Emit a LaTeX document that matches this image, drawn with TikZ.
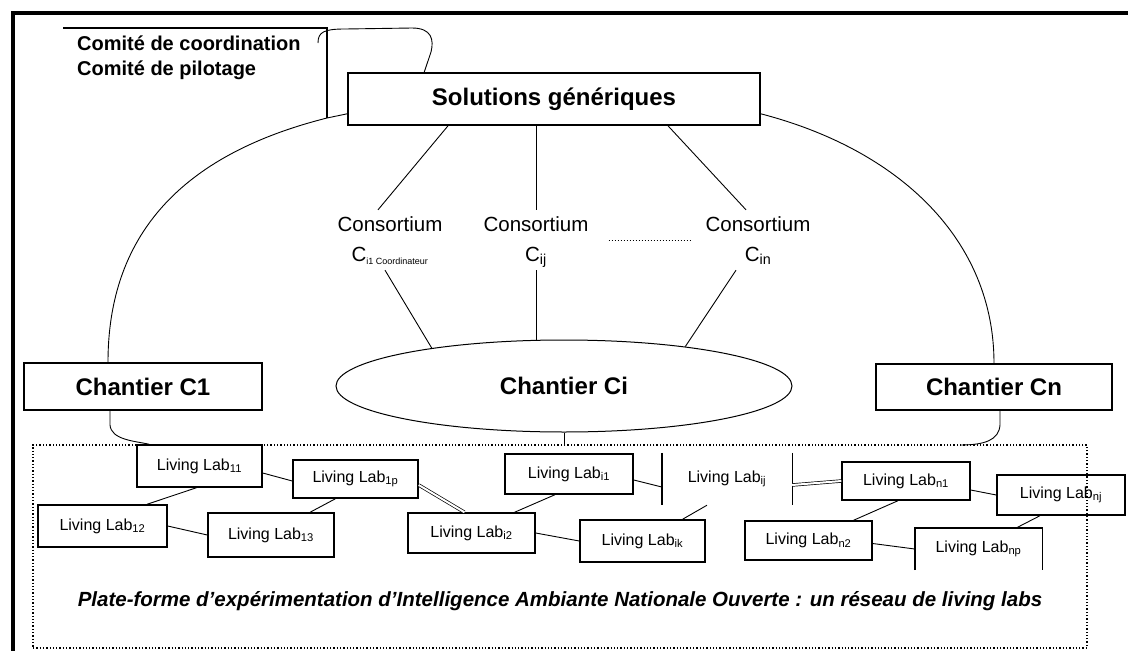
\documentclass[tikz,border=0pt]{standalone}
\usepackage{fontspec}
\setmainfont{Liberation Sans}
\usetikzlibrary{shapes.geometric,calc}

\tikzset{
  frameline/.style={line width=4pt},
  conn/.style={line width=0.9pt},
  bigbox/.style={draw, line width=1.6pt, inner sep=0pt, font=\fontsize{24}{28}\selectfont\bfseries},
  cons/.style={align=center, inner sep=0pt, font=\fontsize{20.5}{30}\selectfont},
  labbox/.style={draw, line width=1.4pt, inner sep=0pt, font=\fontsize{16}{18}\selectfont},
  labopen/.style={inner sep=0pt, font=\fontsize{16}{18}\selectfont},
}

\begin{document}
\begin{tikzpicture}[x=1pt, y=-1pt]
\useasboundingbox (0,0) rectangle (1128,651);

% outer frame (left and top edges)
\draw[frameline] (12.5,660) -- (12.5,12.5) -- (1135,12.5);

% committees
\node[anchor=north west, align=left, inner sep=0pt, font=\fontsize{20}{25}\selectfont\bfseries]
  (comite) at (77,36) {Comité de coordination\\Comité de pilotage};
\coordinate (brkA) at (63,28);
\coordinate (brkB) at (327,28);
\coordinate (brk) at (327,118);
\draw[conn, line width=1.2pt] (brkA) -- (brkB) -- (brk);

% generic solutions
\node[bigbox, minimum width=412pt, minimum height=52pt] (sol) at (554,99) {Solutions génériques};

% loop from the committees to the solutions box
\coordinate (loopA) at (318,43);
\draw[conn] (loopA) .. controls (318,32) and (324,29) .. (345,29) -- (412,28)
  .. controls (432,28) and (434,40) .. (431,52) -- ($(sol.north west)+(77,0)$);

% consortia
\node[cons] (cons1) at (390,240) {\strut Consortium\\\strut C\textsubscript{\fontsize{9}{9}\selectfont i1 Coordinateur}};
\node[cons] (cons2) at (536,240) {\strut Consortium\\\strut C\textsubscript{ij}};
\node[cons] (cons3) at (758,240) {\strut Consortium\\\strut C\textsubscript{in}};
\draw[dotted, line width=1pt, shorten <=20pt, shorten >=14pt] (cons2) -- (cons3);

% chantiers
\node[bigbox, minimum width=238pt, minimum height=47pt] (c1) at (143,386.5) {Chantier C1};
\node[draw, ellipse, line width=1pt, inner sep=0pt, minimum width=456pt, minimum height=92pt,
  font=\fontsize{24}{28}\selectfont\bfseries] (ci) at (564,386) {Chantier Ci};
\node[bigbox, minimum width=236pt, minimum height=46pt] (cn) at (994,387) {Chantier Cn};

% solutions -> consortia -> chantier Ci
\draw[conn] ($(sol.south)+(-106,0)$) -- ($(cons1.north)+(-12,0)$);
\draw[conn] (sol.south -| cons2.north) -- (cons2.north);
\draw[conn] ($(sol.south)+(114,0)$) -- ($(cons3.north)+(-12,0)$);
\draw[conn] ($(cons1.south)+(-5,0)$) -- (ci.164.6);
\draw[conn] (cons2.south) -- (cons2.south |- ci.north);
\draw[conn] ($(cons3.south)+(-22,0)$) -- (ci.18);

% solutions -> chantiers C1 and Cn
\draw[conn] ($(sol.south west)+(0,-12)$) -- (brk)
  .. controls (200,150) and (108,220) .. ($(c1.north)+(-35,0)$);
\draw[conn] ($(sol.south east)+(0,-12)$)
  .. controls (900,150) and (994,240) .. (cn.north);

% living lab platform
\node[draw, dotted, line width=1.3pt, minimum width=1054pt, minimum height=203pt, inner sep=0pt]
  (frame) at (560,546.5) {};
\draw[conn] (ci.south) -- (ci.south |- frame.north);

% living labs
\node[labbox, minimum width=125pt, minimum height=42pt] (ll1) at (199.5,466) {Living Lab\textsubscript{11}};
\node[labbox, minimum width=125pt, minimum height=38pt] (ll2) at (355.5,479) {Living Lab\textsubscript{1p}};
\node[labbox, minimum width=129pt, minimum height=42pt] (ll3) at (102.5,526) {Living Lab\textsubscript{12}};
\node[labbox, minimum width=126pt, minimum height=44pt] (ll4) at (271,535) {Living Lab\textsubscript{13}};
\node[labbox, minimum width=128pt, minimum height=40pt] (ll5) at (569,474) {Living Lab\textsubscript{i1}};
\node[labopen, minimum width=130pt, minimum height=52pt] (llm) at (727,479) {Living Lab\textsubscript{ij}};
\draw[line width=1.4pt] (llm.north west) -- (llm.south west);
\draw[line width=1.4pt] (llm.north east) -- (llm.south east);
\node[labbox, minimum width=127pt, minimum height=40pt] (ll6) at (471.5,533) {Living Lab\textsubscript{i2}};
\node[labbox, minimum width=125pt, minimum height=42pt] (ll7) at (642.5,541) {Living Lab\textsubscript{ik}};
\node[labbox, minimum width=128pt, minimum height=38pt] (ll8) at (906,481) {Living Lab\textsubscript{n1}};
\node[labbox, minimum width=128pt, minimum height=40pt] (ll9) at (1061,495) {Living Lab\textsubscript{nj}};
\node[labbox, minimum width=127pt, minimum height=39pt] (ll10) at (808.5,540.5) {Living Lab\textsubscript{n2}};
\node[labopen, minimum width=127pt, minimum height=42pt] (ll11) at (978.5,549) {Living Lab\textsubscript{np}};
\draw[line width=1.4pt] (ll11.south west) -- (ll11.north west) -- (ll11.north east) -- (ll11.south east);

% chantiers -> living labs
\coordinate (cnEnd) at (960,445);
\draw[conn] ($(c1.south)+(-33,0)$) -- ++(0,14)
  .. controls (111,440) and (135,441) .. ($(ll1.north west)+(13,0)$);
\draw[conn] ($(cn.south)+(6,0)$) -- ++(0,14)
  .. controls (999,440) and (985,445) .. (cnEnd);

% links between living labs
\draw[conn] ([yshift=-7pt]ll1.east) -- ([yshift=-2pt]ll2.west);
\draw[conn] ([xshift=-3pt]ll1.south) -- ([xshift=44.5pt]ll3.north);
\draw[conn] (ll3.east) -- (ll4.west);
\draw[conn] ([xshift=-20pt]ll2.south) -- ([xshift=39pt]ll4.north);
\draw[conn, double, double distance=2pt, line width=0.7pt] ([yshift=-6pt]ll2.east) -- ([xshift=-7pt]ll6.north);
\draw[conn] ([xshift=-14pt]ll5.south) -- ([xshift=43pt]ll6.north);
\draw[conn] ([yshift=-6pt]ll5.east) -- ([yshift=-8pt]llm.west);
\draw[conn] (ll6.east) -- (ll7.west);
\draw[conn] ([xshift=-20pt]llm.south) -- ([xshift=40pt]ll7.north);
\draw[conn, double, double distance=2pt, line width=0.7pt] ([yshift=-6pt]llm.east) -- (ll8.west);
\draw[conn] ([yshift=-9pt]ll8.east) -- (ll9.west);
\draw[conn] ([xshift=-8pt]ll8.south) -- ([xshift=45pt]ll10.north);
\draw[conn] ([yshift=-3pt]ll10.east) -- (ll11.west);
\draw[conn] ([xshift=-21pt]ll9.south) -- ([xshift=38pt]ll11.north);

% caption
\node[inner sep=0pt, font=\fontsize{20.5}{24}\selectfont\bfseries\itshape] (caption) at (560,601)
  {Plate-forme d'expérimentation d'Intelligence Ambiante Nationale Ouverte : un réseau de living labs};
\end{tikzpicture}
\end{document}
